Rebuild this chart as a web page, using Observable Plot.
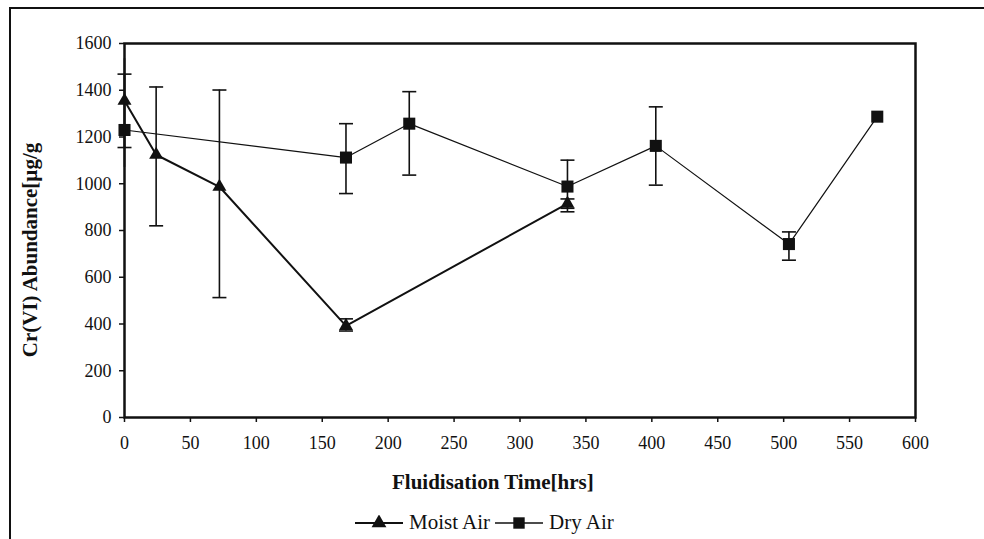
<!DOCTYPE html>
<html><head><meta charset="utf-8">
<script src="https://cdn.jsdelivr.net/npm/d3@7"></script>
<script src="https://cdn.jsdelivr.net/npm/@observablehq/plot@0.6"></script>
<style>
body{margin:0;background:#fff;}
#wrap{position:relative;width:984px;height:539px;overflow:hidden;font-family:"Liberation Serif","Times New Roman",serif;color:#111;}
#border{position:absolute;left:9px;top:7px;width:990px;height:600px;border-left:2px solid #111;border-top:2px solid #111;}
#chart{position:absolute;left:0;top:0;}
#xtitle{position:absolute;left:392px;top:470px;font-weight:bold;font-size:21px;white-space:nowrap;}
#ytitle{position:absolute;left:30px;top:250px;transform:translate(-50%,-50%) rotate(-90deg);font-weight:bold;font-size:21px;white-space:nowrap;}
#legend{position:absolute;top:510px;left:354px;font-size:21px;display:flex;align-items:center;white-space:nowrap;}
#legend svg{vertical-align:middle;}
</style></head>
<body>
<div id="wrap">
<div id="border"></div>
<div id="chart"></div>
<div id="xtitle"></div>
<div id="ytitle"></div>
<div id="legend"></div>
</div>
<script>
const xTitle = "Fluidisation Time[hrs]";
const yTitle = "Cr(VI) Abundance[µg/g";
const seriesNames = ["Moist Air", "Dry Air"];

const moistTime = [0, 24, 72, 168, 336];
const moistValue = [1355, 1124, 987, 392, 915];
const moistLow = [1155, 820, 513, 370, 895];
const moistHigh = [1469, 1414, 1401, 422, 935];

const dryTime = [0, 168, 216, 336, 403, 504, 571];
const dryValue = [1230, 1112, 1257, 988, 1162, 742, 1287];
const dryLow = [1070, 958, 1037, 880, 994, 673, null];
const dryHigh = [1535, 1257, 1394, 1101, 1329, 794, null];

const xTicks = [0, 50, 100, 150, 200, 250, 300, 350, 400, 450, 500, 550, 600];
const yTicks = [0, 200, 400, 600, 800, 1000, 1200, 1400, 1600];

const moist = moistTime.map((t, i) => ({t, v: moistValue[i], lo: moistLow[i], hi: moistHigh[i]}));
const dry = dryTime.map((t, i) => ({t, v: dryValue[i], lo: dryLow[i], hi: dryHigh[i]}));
const dryErr = dry.filter(d => d.lo != null);

const capSymbol = {draw(ctx, size) { const r = Math.sqrt(size / Math.PI); ctx.moveTo(-r, 0); ctx.lineTo(r, 0); }};

const chart = Plot.plot({
  width: 984, height: 539,
  marginLeft: 124, marginRight: 69, marginTop: 43, marginBottom: 122,
  style: {fontFamily: "'Liberation Serif','Times New Roman',serif", fontSize: "18px", color: "#111", background: "transparent"},
  x: {domain: [0, 600]},
  y: {domain: [0, 1600]},
  marks: [
    Plot.axisX({ticks: xTicks, tickSize: 5, tickPadding: 14, label: null, tickFormat: d => String(d), strokeWidth: 1.5}),
    Plot.axisY({ticks: yTicks, tickSize: 5, tickPadding: 8, label: null, tickFormat: d => String(d), strokeWidth: 1.5}),
    Plot.frame({stroke: "#111", strokeWidth: 2.5}),
    // Dry Air
    Plot.line(dry, {x: "t", y: "v", stroke: "#111", strokeWidth: 1.2}),
    Plot.ruleX(dryErr, {x: "t", y1: "lo", y2: "hi", stroke: "#111", strokeWidth: 1.6}),
    Plot.dot(dryErr.filter(d => d.t > 0), {x: "t", y: "lo", symbol: capSymbol, r: 7, stroke: "#111", strokeWidth: 1.6}),
    Plot.dot(dryErr.filter(d => d.t > 0), {x: "t", y: "hi", symbol: capSymbol, r: 7, stroke: "#111", strokeWidth: 1.6}),
    Plot.dot(dry, {x: "t", y: "v", symbol: d3.symbolSquare, r: 6.8, fill: "#111", stroke: null}),
    // Moist Air
    Plot.line(moist, {x: "t", y: "v", stroke: "#111", strokeWidth: 2}),
    Plot.ruleX(moist, {x: "t", y1: "lo", y2: "hi", stroke: "#111", strokeWidth: 1.6}),
    Plot.dot(moist, {x: "t", y: "lo", symbol: capSymbol, r: 7, stroke: "#111", strokeWidth: 1.6}),
    Plot.dot(moist, {x: "t", y: "hi", symbol: capSymbol, r: 7, stroke: "#111", strokeWidth: 1.6}),
    Plot.dot(moist, {x: "t", y: "v", symbol: d3.symbolTriangle, r: 5.2, fill: "#111", stroke: null})
  ]
});
document.getElementById("chart").appendChild(chart);
document.getElementById("xtitle").textContent = xTitle;
document.getElementById("ytitle").textContent = yTitle;

function legendItem(name, sym, lw) {
  const s = d3.create("svg").attr("width", 50).attr("height", 16);
  s.append("line").attr("x1", 1).attr("x2", 49).attr("y1", 8).attr("y2", 8).attr("stroke", "#111").attr("stroke-width", lw);
  s.append("path").attr("transform", "translate(25,8)").attr("d", d3.symbol(sym, sym === d3.symbolSquare ? 130 : 95)()).attr("fill", "#111");
  const span = document.createElement("span");
  span.style.display = "inline-flex"; span.style.alignItems = "center"; span.style.marginRight = "4px";
  span.appendChild(s.node());
  const t = document.createElement("span"); t.textContent = name; t.style.marginLeft = "5px";
  span.appendChild(t);
  return span;
}
const lg = document.getElementById("legend");
lg.appendChild(legendItem(seriesNames[0], d3.symbolTriangle, 2));
lg.appendChild(legendItem(seriesNames[1], d3.symbolSquare, 1.5));
</script>
</body></html>
